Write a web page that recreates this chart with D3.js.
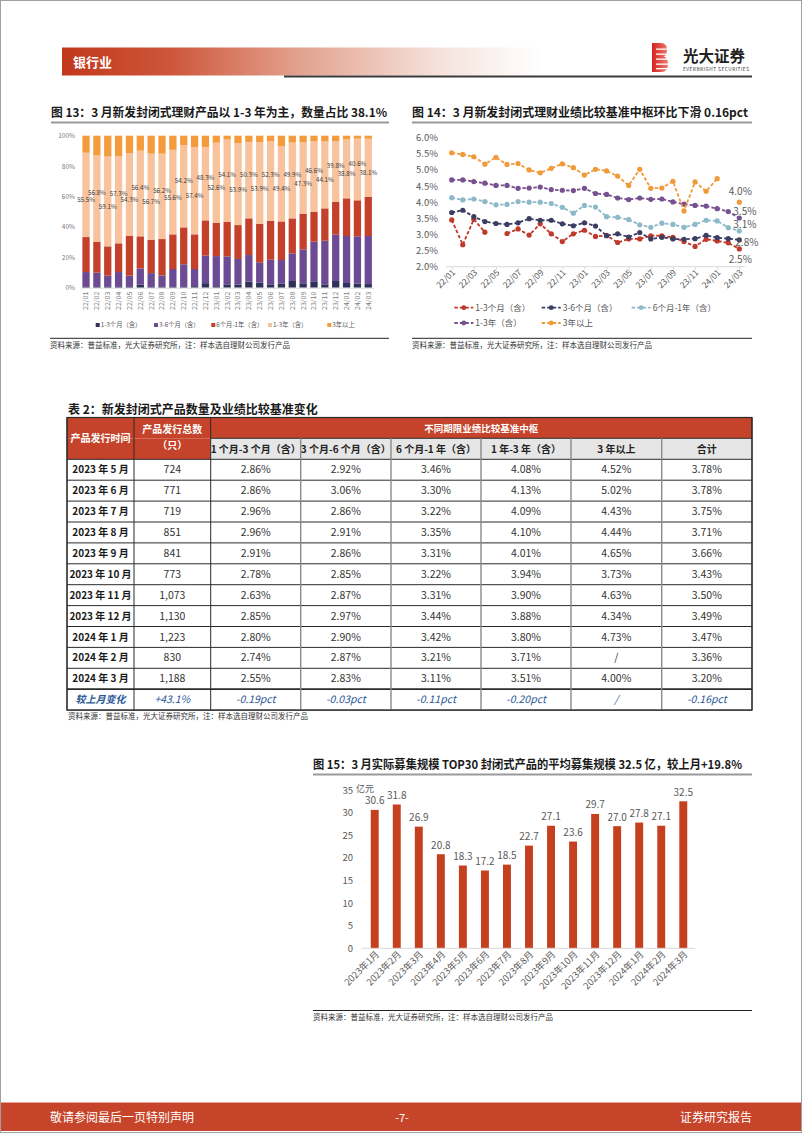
<!DOCTYPE html>
<html><head><meta charset="utf-8">
<script src="https://cdn.jsdelivr.net/npm/d3@7"></script>
<style>body{margin:0;background:#fff}svg{display:block}text{font-family:"Noto Sans CJK SC",sans-serif}</style>
</head><body><svg id="page" width="802" height="1133"></svg>
<script>
// ---------------- DATA ----------------
const c13Cats = ["22/01","22/02","22/03","22/04","22/05","22/06","22/07","22/08","22/09","22/10","22/11","22/12","23/01","23/02","23/03","23/04","23/05","23/06","23/07","23/08","23/09","23/10","23/11","23/12","24/01","24/02","24/03"];
const c13Names = ["1-3个月（含）","3-6个月（含）","6个月-1年（含）","1-3年（含）","3年以上"];
const c13S1 = [0.5,0.5,0.5,0.5,0.5,2.0,0.5,0.5,0.5,0.5,1.0,3.0,1.0,2.2,2.0,4.0,3.3,2.2,2.6,4.4,2.9,4.2,2.2,4.4,3.1,2.6,2.4];
const c13S2 = [9.8,9.4,7.4,9.8,7.4,10.7,9.1,7.6,11.8,14.9,11.3,18.1,19.8,18.4,16.9,17.5,13.4,16.2,15.6,18.2,22.3,26.1,28.7,30.5,30.9,31.2,31.6];
const c13S3 = [23.0,20.4,19.3,18.9,26.3,21.1,22.0,23.9,22.8,24.3,22.8,23.2,22.0,22.8,22.3,24.1,25.2,25.7,25.4,23.0,23.3,19.5,21.3,21.7,24.8,23.7,25.9];
const c13S4 = [55.5,56.8,59.1,57.3,54.3,56.4,56.7,56.2,55.6,54.2,57.4,48.3,52.6,54.1,53.9,50.3,53.9,52.3,49.4,49.9,47.3,46.6,44.1,39.8,38.8,40.6,38.1];
const c13S5 = [11.2,12.9,13.7,13.5,11.5,9.8,11.7,11.8,9.3,6.1,7.5,7.4,4.6,2.5,4.9,4.1,4.2,3.6,7.0,4.5,4.2,3.6,3.7,3.6,2.4,1.9,2.0];
const c13Ticks = [0,20,40,60,80,100];

const c14Cats = c13Cats;
const c14Names = ["1-3个月（含）","3-6个月（含）","6个月-1年（含）","1-3年（含）","3年以上"];
const c14M13 = [3.45,2.68,3.47,3.07,null,3.03,3.17,2.98,3.33,3.02,2.78,3.02,3.13,2.94,2.97,2.75,2.86,2.86,2.96,2.96,2.91,2.78,2.63,2.85,2.80,2.74,2.55];
const c14M36 = [3.68,3.75,3.55,3.40,3.34,3.31,3.36,3.49,3.44,3.44,3.33,3.27,3.36,3.26,2.96,3.02,2.92,3.06,2.86,2.91,2.86,2.85,2.87,2.97,2.90,2.87,2.83];
const c14M61 = [4.14,4.07,4.10,4.02,3.92,3.93,4.02,4.00,4.00,3.96,3.84,3.66,3.90,3.85,3.55,3.53,3.46,3.30,3.22,3.35,3.31,3.22,3.31,3.44,3.42,3.21,3.11];
const c14Y13 = [4.69,4.69,4.64,4.59,4.52,4.52,4.43,4.44,4.47,4.39,4.37,4.36,4.43,4.27,4.24,4.13,4.08,4.13,4.09,4.10,4.01,3.94,3.90,3.88,3.80,3.71,3.51];
const c14Y3 = [5.53,5.48,5.41,5.18,5.39,5.17,5.20,5.00,4.91,5.05,5.19,5.07,4.84,5.02,4.97,4.81,4.52,5.02,4.43,4.44,4.65,3.73,4.63,4.34,4.73,null,4.00];
const c14Ticks = [2.0,2.5,3.0,3.5,4.0,4.5,5.0,5.5,6.0];
const c14EndLabels = ["2.5%","2.8%","3.1%","3.5%","4.0%"];

const tblMonths = ["2023 年 5 月","2023 年 6 月","2023 年 7 月","2023 年 8 月","2023 年 9 月","2023 年 10 月","2023 年 11 月","2023 年 12 月","2024 年 1 月","2024 年 2 月","2024 年 3 月"];
const tblCounts = ["724","771","719","851","841","773","1,073","1,130","1,223","830","1,188"];
const tbl13 = [2.86,2.86,2.96,2.96,2.91,2.78,2.63,2.85,2.80,2.74,2.55];
const tbl36 = [2.92,3.06,2.86,2.91,2.86,2.85,2.87,2.97,2.90,2.87,2.83];
const tbl61 = [3.46,3.30,3.22,3.35,3.31,3.22,3.31,3.44,3.42,3.21,3.11];
const tblY13 = [4.08,4.13,4.09,4.10,4.01,3.94,3.90,3.88,3.80,3.71,3.51];
const tblY3 = [4.52,5.02,4.43,4.44,4.65,3.73,4.63,4.34,4.73,null,4.00];
const tblTotal = [3.78,3.78,3.75,3.71,3.66,3.43,3.50,3.49,3.47,3.36,3.20];
const tblChange = ["较上月变化","+43.1%","-0.19pct","-0.03pct","-0.11pct","-0.20pct","/","-0.16pct"];
const tblSubHeads = ["1 个月-3 个月（含）","3 个月-6 个月（含）","6 个月-1 年（含）","1 年-3 年（含）","3 年以上","合计"];

const c15Cats = ["2023年1月","2023年2月","2023年3月","2023年4月","2023年5月","2023年6月","2023年7月","2023年8月","2023年9月","2023年10月","2023年11月","2023年12月","2024年1月","2024年2月","2024年3月"];
const c15Vals = [30.6,31.8,26.9,20.8,18.3,17.2,18.5,22.7,27.1,23.6,29.7,27.0,27.8,27.1,32.5];
const c15Ticks = [0,5,10,15,20,25,30,35];

const srcText = "资料来源：普益标准，光大证券研究所，注：样本选自理财公司发行产品";

// ---------------- STYLE ----------------
const NUM = 'Lato, "Noto Sans CJK SC", sans-serif';
const RED = "#C4401F";
const svg = d3.select("#page");

svg.append("rect").attr("x",0.5).attr("y",0.5).attr("width",801).attr("height",1132)
  .attr("fill","#fff").attr("stroke","#a0a0a0");

// ---------------- HEADER ----------------
const defs = svg.append("defs");
const hg = defs.append("linearGradient").attr("id","hdr").attr("x1",0).attr("x2",1).attr("y1",0).attr("y2",0);
[[0,"#C2381C"],[0.22,"#CD5539"],[0.5,"#E3A391"],[0.78,"#F6E1DB"],[1,"#FFFFFF"]]
  .forEach(s=>hg.append("stop").attr("offset",s[0]).attr("stop-color",s[1]));
svg.append("rect").attr("x",62).attr("y",47.5).attr("width",480).attr("height",28).attr("fill","url(#hdr)");
svg.append("text").text("银行业").attr("x",73).attr("y",66.5).attr("fill","#fff")
  .attr("font-size",13).attr("font-weight","bold");
svg.append("line").attr("x1",284).attr("x2",752).attr("y1",76.5).attr("y2",76.5)
  .attr("stroke","#3a3a3a").attr("stroke-width",2);
const lg = defs.append("linearGradient").attr("id","logo").attr("x1",0).attr("x2",1);
lg.append("stop").attr("offset",0).attr("stop-color","#D5221B");
lg.append("stop").attr("offset",1).attr("stop-color","#EE7C74");
const logo = svg.append("g");
logo.append("path").attr("d","M652,43 h9 q6,0 6,7 q0,5 -3,6.5 q4,1.5 4,7.5 q0,8 -7,8 h-9 z").attr("fill","url(#logo)");
[48.5,53.5,58.5,63.5,68].forEach(y=>logo.append("rect").attr("x",656).attr("y",y).attr("width",12).attr("height",1.3).attr("fill","#fff"));
svg.append("text").text("光大证券").attr("x",683).attr("y",61.5).attr("font-size",15.5)
  .attr("font-weight","bold").attr("fill","#222");
svg.append("text").text("EVERBRIGHT SECURITIES").attr("x",683).attr("y",70.8).attr("font-size",4.8)
  .attr("fill","#333").attr("font-family",NUM).attr("textLength",66);

// titles
function title(txt,x,y,x2){
  svg.append("text").text(txt).attr("x",x).attr("y",y).attr("font-size",12)
    .attr("font-weight","bold").attr("fill","#1a1a1a").attr("textLength",x2-x-2).attr("lengthAdjust","spacingAndGlyphs");
}
function uline(x1,x2,y,c,w){svg.append("line").attr("x1",x1).attr("x2",x2).attr("y1",y).attr("y2",y).attr("stroke",c).attr("stroke-width",w);}
function source(x,y){svg.append("text").text(srcText).attr("x",x).attr("y",y).attr("font-size",7.5).attr("fill","#333");}

title("图 13：3 月新发封闭式理财产品以 1-3 年为主，数量占比 38.1%",51,116.5,389);
uline(51,389,122.5,"#9a9a9a",2);
title("图 14：3 月新发封闭式理财业绩比较基准中枢环比下滑 0.16pct",412,116.5,750);
uline(412,752,122.5,"#9a9a9a",2);

// ---------------- CHART 13 ----------------
{
  const g = svg.append("g");
  const col = ["#2F3157","#6C4B94","#C4402B","#F7C29C","#F39B3D"];
  const rows = c13Cats.map((c,i)=>({cat:c,k0:c13S1[i],k1:c13S2[i],k2:c13S3[i],k3:c13S4[i],k4:c13S5[i]}));
  const stack = d3.stack().keys(["k0","k1","k2","k3","k4"])(rows);
  const x = d3.scaleBand().domain(c13Cats).range([80.6,373.7]).paddingInner(0.33).paddingOuter(0.165);
  const y = d3.scaleLinear().domain([0,100]).range([287.7,135.7]);
  stack.forEach((layer,li)=>{
    g.append("g").selectAll("rect").data(layer).join("rect")
      .attr("x",d=>x(d.data.cat)).attr("width",x.bandwidth())
      .attr("y",d=>y(d[1])).attr("height",d=>y(d[0])-y(d[1])).attr("fill",col[li]);
  });
  g.append("g").selectAll("text").data(stack[3]).join("text")
    .attr("x",d=>x(d.data.cat)+x.bandwidth()/2)
    .attr("y",(d,i)=>y((d[0]+d[1])/2)+2+(i%2===0?5.5:-5.5))
    .attr("text-anchor","middle").attr("font-size",6.2).attr("font-family",NUM).attr("fill","#3a3a3a")
    .text(d=>d.data.k3.toFixed(1)+"%");
  const ya = g.append("g").attr("transform","translate(77,0)")
    .call(d3.axisLeft(y).tickValues(c13Ticks).tickFormat(d=>d+"%").tickSize(0).tickPadding(2));
  ya.select(".domain").remove();
  ya.selectAll("text").attr("font-size",6.5).attr("font-family",NUM).attr("fill","#7a7a7a");
  const xa = g.append("g").attr("transform","translate(0,287.7)")
    .call(d3.axisBottom(x).tickSize(0));
  xa.select(".domain").attr("stroke","#d9d9d9");
  xa.selectAll("text").attr("transform","rotate(-90)").attr("text-anchor","end")
    .attr("x",-4).attr("y",0).attr("dy","0.35em")
    .attr("font-size",7).attr("font-family",NUM).attr("fill","#7a7a7a");
  const lx = [97.7,156,213.3,270,329.3];
  c13Names.forEach((n,i)=>{
    g.append("rect").attr("x",lx[i]-2).attr("y",323).attr("width",4).attr("height",4).attr("fill",col[i]);
    g.append("text").text(n).attr("x",lx[i]+3).attr("y",327.2).attr("font-size",6.3).attr("fill","#595959");
  });
  uline(50,389,338.3,"#222",1);
  source(50,347.5);
}

// ---------------- CHART 14 ----------------
{
  const g = svg.append("g");
  const col = ["#C0392B","#3B3D63","#8DB9C9","#77508F","#F09A3A"];
  const series = [c14M13,c14M36,c14M61,c14Y13,c14Y3];
  const x = d3.scalePoint().domain(c14Cats).range([451.7,739.3]);
  const y = d3.scaleLinear().domain([2,6]).range([266.7,137.7]);
  const ya = g.append("g").attr("transform","translate(440,0)")
    .call(d3.axisLeft(y).tickValues(c14Ticks).tickFormat(d=>d.toFixed(1)+"%").tickSize(0).tickPadding(2));
  ya.select(".domain").remove();
  ya.selectAll("text").attr("font-size",9.5).attr("font-family",NUM).attr("fill","#595959");
  const xa = g.append("g").attr("transform","translate(0,266.7)")
    .call(d3.axisBottom(x).tickValues(c14Cats.filter((c,i)=>i%2===0)).tickSize(3));
  xa.select(".domain").attr("stroke","#d9d9d9").attr("d","M446,0H745");
  xa.selectAll("line").attr("stroke","#d9d9d9");
  xa.selectAll("text").attr("transform","rotate(-45)").attr("text-anchor","end")
    .attr("x",-2).attr("y",4).attr("dy","0.35em")
    .attr("font-size",8.5).attr("font-family",NUM).attr("fill","#595959");
  const line = d3.line().defined(d=>d.v!=null).x(d=>x(d.c)).y(d=>y(d.v));
  series.forEach((s,si)=>{
    const pts = c14Cats.map((c,i)=>({c,v:s[i]}));
    g.append("path").attr("d",line(pts)).attr("fill","none").attr("stroke",col[si])
      .attr("stroke-width",1.8).attr("stroke-dasharray","3.5,2");
    g.append("g").selectAll("circle").data(pts.filter(p=>p.v!=null)).join("circle")
      .attr("cx",d=>x(d.c)).attr("cy",d=>y(d.v)).attr("r",2.6).attr("fill",col[si]);
  });
  const last = c14Cats[c14Cats.length-1];
  const endOff = [[1,11,"middle"],[-4,3,"start"],[-6,-6,"start"],[-6,-7,"start"],[1,-10.5,"middle"]];
  series.forEach((s,si)=>{
    const v = s[s.length-1];
    g.append("text").text(c14EndLabels[si]).attr("x",x(last)+endOff[si][0])
      .attr("y",y(v)+endOff[si][1]+3.5).attr("text-anchor",endOff[si][2])
      .attr("font-size",10).attr("font-family",NUM).attr("fill","#595959");
  });
  const leg = [[454.3,307.7],[541.7,307.7],[631.7,307.7],[454.3,323],[541.7,323]];
  c14Names.forEach((n,i)=>{
    const [lx,ly] = leg[i];
    g.append("line").attr("x1",lx).attr("x2",lx+19).attr("y1",ly).attr("y2",ly)
      .attr("stroke",col[i]).attr("stroke-width",1.8).attr("stroke-dasharray","3.5,2");
    g.append("circle").attr("cx",lx+9.5).attr("cy",ly).attr("r",2.4).attr("fill",col[i]);
    g.append("text").text(n).attr("x",lx+21).attr("y",ly+3.2).attr("font-size",8.5).attr("fill","#595959");
  });
  uline(412,752,338.3,"#222",1);
  source(412,347.5);
}

// ---------------- TABLE ----------------
{
  const g = svg.append("g");
  svg.append("text").text("表 2：新发封闭式产品数量及业绩比较基准变化").attr("x",68).attr("y",413.5)
    .attr("font-size",12).attr("font-weight","bold").attr("fill","#1a1a1a");
  const cx = [67,134,210.7,300.7,391,481,571,661.7,752];
  const top = 417.5, h1 = 438.3, h2 = 459.3, rh = 20.9;
  const HRED = "#C5432A";
  g.append("rect").attr("x",cx[0]).attr("y",top).attr("width",cx[8]-cx[0]).attr("height",h1-top).attr("fill",HRED);
  g.append("rect").attr("x",cx[0]).attr("y",h1).attr("width",cx[2]-cx[0]).attr("height",h2-h1).attr("fill",HRED);
  g.append("rect").attr("x",cx[2]).attr("y",h1).attr("width",cx[8]-cx[2]).attr("height",h2-h1).attr("fill","#E6E6E6");
  const hdrTxt = (t,x,y,c,fs)=>g.append("text").text(t).attr("x",x).attr("y",y).attr("text-anchor","middle")
    .attr("font-size",fs||10).attr("font-weight","bold").attr("fill",c);
  hdrTxt("产品发行时间",(cx[0]+cx[1])/2,442,"#fff");
  hdrTxt("产品发行总数",(cx[1]+cx[2])/2,433,"#fff");
  hdrTxt("（只）",(cx[1]+cx[2])/2,448.5,"#fff");
  hdrTxt("不同期限业绩比较基准中枢",(cx[2]+cx[8])/2,431.5,"#fff",9.5);
  tblSubHeads.forEach((t,i)=>hdrTxt(t,(cx[i+2]+cx[i+3])/2,452.5,"#222",10));
  const cols = [tbl13,tbl36,tbl61,tblY13,tblY3,tblTotal];
  const fmt = v=>v==null?"/":v.toFixed(2)+"%";
  tblMonths.forEach((m,r)=>{
    const yc = h2 + rh*r + rh/2 + 3.6;
    g.append("text").text(m).attr("x",(cx[0]+cx[1])/2).attr("y",yc).attr("text-anchor","middle")
      .attr("font-size",10).attr("font-weight","bold").attr("fill","#1a1a1a");
    g.append("text").text(tblCounts[r]).attr("x",(cx[1]+cx[2])/2).attr("y",yc).attr("text-anchor","middle")
      .attr("font-size",10.5).attr("font-family",NUM).attr("fill","#333");
    cols.forEach((c,ci)=>g.append("text").text(fmt(c[r])).attr("x",(cx[ci+2]+cx[ci+3])/2).attr("y",yc)
      .attr("text-anchor","middle").attr("font-size",10.5).attr("font-family",NUM).attr("fill","#333"));
  });
  const yl = h2 + rh*11 + rh/2 + 3.6;
  tblChange.forEach((t,i)=>g.append("text").text(t).attr("x",(cx[i]+cx[i+1])/2).attr("y",yl)
    .attr("text-anchor","middle").attr("font-size",i===0?10:10.5).attr("font-weight",i===0?"bold":"normal")
    .attr("font-style","italic").attr("font-family",i===0?null:NUM).attr("fill","#2B5797"));
  const bottom = h2 + rh*12;
  for(let r=0;r<=12;r++){
    const yy = h2 + rh*r;
    g.append("line").attr("x1",cx[0]).attr("x2",cx[8]).attr("y1",yy).attr("y2",yy)
      .attr("stroke","#2a2a2a").attr("stroke-width",r===11?1.8:1);
  }
  g.append("line").attr("x1",cx[2]).attr("x2",cx[8]).attr("y1",h1).attr("y2",h1).attr("stroke","#2a2a2a");
  cx.forEach((xx,i)=>{
    const y0 = (i===0||i===8||i===1||i===2)?top:h1;
    g.append("line").attr("x1",xx).attr("x2",xx).attr("y1",y0).attr("y2",bottom)
      .attr("stroke",(i===0||i===8||i===1||i===2)?"#2a2a2a":"#8a8a8a").attr("stroke-width",(i>2&&i<8)?1.4:1);
  });
  g.append("rect").attr("x",cx[0]).attr("y",top).attr("width",cx[8]-cx[0]).attr("height",bottom-top)
    .attr("fill","none").attr("stroke","#2a2a2a").attr("stroke-width",1.2);
  source(68,719);
}

// ---------------- CHART 15 ----------------
{
  const g = svg.append("g");
  title("图 15：3 月实际募集规模 TOP30 封闭式产品的平均募集规模 32.5 亿，较上月+19.8%",313,769,744);
  uline(313,752,774.5,"#9a9a9a",2);
  const x = d3.scaleBand().domain(c15Cats).range([363.7,694.3]).paddingInner(0.64).paddingOuter(0.32);
  const y = d3.scaleLinear().domain([0,35]).range([948.3,790]);
  const ya = g.append("g").attr("transform","translate(355,0)")
    .call(d3.axisLeft(y).tickValues(c15Ticks).tickSize(0).tickPadding(2));
  ya.select(".domain").remove();
  ya.selectAll("text").attr("font-size",9.5).attr("font-family",NUM).attr("fill","#595959");
  g.append("text").text("亿元").attr("x",356).attr("y",792.3).attr("font-size",9).attr("fill","#595959");
  g.selectAll("rect.bar").data(c15Vals).join("rect").attr("class","bar")
    .attr("x",(d,i)=>x(c15Cats[i])).attr("width",x.bandwidth())
    .attr("y",d=>y(d)).attr("height",d=>y(0)-y(d)).attr("fill",RED);
  g.selectAll("text.val").data(c15Vals).join("text").attr("class","val")
    .attr("x",(d,i)=>x(c15Cats[i])+x.bandwidth()/2).attr("y",d=>y(d)-5.5)
    .attr("text-anchor","middle").attr("font-size",10).attr("font-family",NUM).attr("fill","#595959")
    .text(d=>d.toFixed(1));
  const xa = g.append("g").attr("transform","translate(0,948.3)")
    .call(d3.axisBottom(x).tickSize(0));
  xa.select(".domain").attr("stroke","#d9d9d9").attr("d","M361.7,0H695");
  xa.selectAll("text").attr("transform","rotate(-45)").attr("text-anchor","end")
    .attr("x",-1).attr("y",5).attr("dy","0.35em")
    .attr("font-size",9.3).attr("fill","#595959");
  uline(313,752,1010.5,"#222",1);
  source(313,1019.5);
}

// ---------------- FOOTER ----------------
svg.append("rect").attr("x",1).attr("y",1102.5).attr("width",800).attr("height",28.5).attr("fill","#C6452A");
svg.append("text").text("敬请参阅最后一页特别声明").attr("x",50).attr("y",1121.5).attr("font-size",12).attr("fill","#fff");
svg.append("text").text("-7-").attr("x",402).attr("y",1121.5).attr("text-anchor","middle").attr("font-size",11).attr("fill","#fff");
svg.append("text").text("证券研究报告").attr("x",752).attr("y",1121.5).attr("text-anchor","end").attr("font-size",12).attr("fill","#fff");
</script></body></html>
